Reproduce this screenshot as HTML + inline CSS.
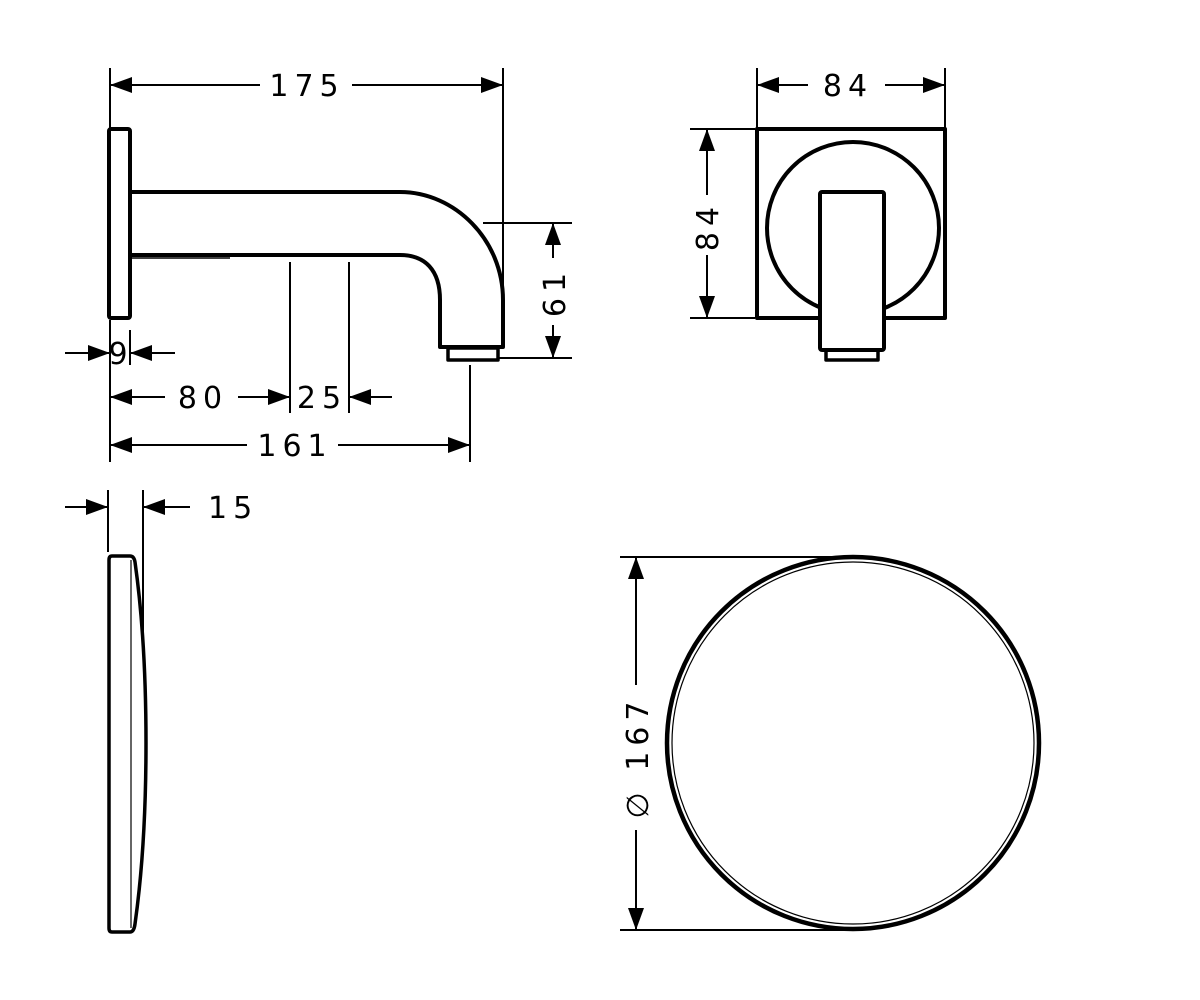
<!DOCTYPE html>
<html><head><meta charset="utf-8"><style>
html,body{margin:0;padding:0;background:#fff}
svg{display:block}
text{font-family:"DejaVu Sans","Liberation Sans",sans-serif;font-size:30px;fill:#000;letter-spacing:6px}
</style></head><body>
<svg width="1200" height="1000" viewBox="0 0 1200 1000" xmlns="http://www.w3.org/2000/svg">
<defs>
<marker id="a" viewBox="0 0 22 16" refX="22" refY="8" markerWidth="22" markerHeight="16" markerUnits="userSpaceOnUse" orient="auto"><path d="M0,0 L22,8 L0,16 z" fill="#000"/></marker>
</defs>
<g stroke="#000" fill="none" stroke-width="2">
<line x1="110" y1="68" x2="110" y2="128"/>
<line x1="110" y1="320" x2="110" y2="462"/>
<line x1="130" y1="330" x2="130" y2="365"/>
<line x1="503" y1="68" x2="503" y2="290"/>
<line x1="483" y1="223" x2="572" y2="223"/>
<line x1="497" y1="358" x2="572" y2="358"/>
<line x1="290" y1="262" x2="290" y2="413"/>
<line x1="349" y1="262" x2="349" y2="413"/>
<line x1="470" y1="365" x2="470" y2="462"/>
<line x1="260" y1="85" x2="110" y2="85" marker-end="url(#a)"/>
<line x1="352" y1="85" x2="503" y2="85" marker-end="url(#a)"/>
<line x1="553" y1="258" x2="553" y2="223" marker-end="url(#a)"/>
<line x1="553" y1="325" x2="553" y2="358" marker-end="url(#a)"/>
<line x1="65" y1="353" x2="110" y2="353" marker-end="url(#a)"/>
<line x1="175" y1="353" x2="130" y2="353" marker-end="url(#a)"/>
<line x1="165" y1="397" x2="110" y2="397" marker-end="url(#a)"/>
<line x1="238" y1="397" x2="290" y2="397" marker-end="url(#a)"/>
<line x1="392" y1="397" x2="349" y2="397" marker-end="url(#a)"/>
<line x1="247" y1="445" x2="110" y2="445" marker-end="url(#a)"/>
<line x1="338" y1="445" x2="470" y2="445" marker-end="url(#a)"/>
<line x1="108" y1="490" x2="108" y2="552"/>
<line x1="143" y1="490" x2="143" y2="640"/>
<line x1="65" y1="507" x2="108" y2="507" marker-end="url(#a)"/>
<line x1="190" y1="507" x2="143" y2="507" marker-end="url(#a)"/>
<line x1="757" y1="68" x2="757" y2="128"/>
<line x1="945" y1="68" x2="945" y2="128"/>
<line x1="808" y1="85" x2="757" y2="85" marker-end="url(#a)"/>
<line x1="885" y1="85" x2="945" y2="85" marker-end="url(#a)"/>
<line x1="690" y1="129" x2="755" y2="129"/>
<line x1="690" y1="318" x2="755" y2="318"/>
<line x1="707" y1="195" x2="707" y2="129" marker-end="url(#a)"/>
<line x1="707" y1="255" x2="707" y2="318" marker-end="url(#a)"/>
<line x1="620" y1="557" x2="850" y2="557"/>
<line x1="620" y1="930" x2="850" y2="930"/>
<line x1="636" y1="685" x2="636" y2="557" marker-end="url(#a)"/>
<line x1="636" y1="830" x2="636" y2="930" marker-end="url(#a)"/>
</g>
<g stroke="#000" fill="none" stroke-width="4" stroke-linejoin="round">
<rect x="109" y="129" width="21" height="189" rx="2"/>
<path d="M130,192 L400,192 C455,192 503,240 503,300 L503,347 L440,347 L440,300 C440,270 425,255 400,255 L130,255"/>
<path d="M130,258 L230,258" stroke-width="1.5"/>
<rect x="448" y="348" width="50" height="12" stroke-width="3.5"/>
<path d="M820,318 L757,318 L757,129 L945,129 L945,318 L884,318"/>
<circle cx="853" cy="228" r="86"/>
<rect x="820" y="192" width="64" height="158" rx="2" fill="#fff"/>
<rect x="826" y="350" width="52" height="10" stroke-width="3.5"/>
<path d="M112,556 L130,556 Q134,556 135,562 Q146,640 146,743 Q146,846 135,924 Q134,932 130,932 L112,932 Q109,932 109,928 L109,560 Q109,556 112,556 Z" stroke-width="3.5"/>
<line x1="131" y1="560" x2="131" y2="928" stroke-width="1.2"/>
<circle cx="853" cy="743" r="186" stroke-width="4.5"/>
<circle cx="853" cy="743" r="181" stroke-width="1.2"/>
</g>
<text x="307" y="96" text-anchor="middle">175</text>
<text x="118" y="364" text-anchor="middle" style="letter-spacing:0">9</text>
<text x="203" y="408" text-anchor="middle">80</text>
<text x="322" y="408" text-anchor="middle">25</text>
<text x="295" y="456" text-anchor="middle">161</text>
<text x="208" y="518">15</text>
<text x="848" y="96" text-anchor="middle">84</text>
<text transform="translate(718,226) rotate(-90)" text-anchor="middle">84</text>
<text transform="translate(565,292) rotate(-90)" text-anchor="middle">61</text>
<text transform="translate(648,757) rotate(-90)" text-anchor="middle">∅ 167</text>
</svg>
</body></html>
